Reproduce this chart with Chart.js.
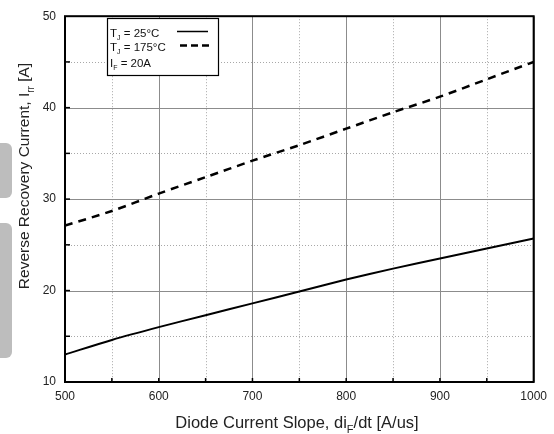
<!DOCTYPE html>
<html>
<head>
<meta charset="utf-8">
<script src="https://cdn.jsdelivr.net/npm/chart.js@4.4.1/dist/chart.umd.min.js"></script>
<style>
  body { margin: 0; background: #fff; }
  #wrap { position: relative; width: 554px; height: 434px; }
  .tab { position: absolute; left: 0; width: 12px; background: #bdbdbd; border-radius: 0 6px 6px 0; }
</style>
</head>
<body>
<div id="wrap">
  <canvas id="chart" width="554" height="434"></canvas>
  <div class="tab" style="top:143px;height:55px"></div>
  <div class="tab" style="top:223px;height:135px"></div>
</div>
<script>
// di/dt values [A/us]
const slopes = [500, 550, 600, 650, 700, 750, 800, 850, 900, 950, 1000];
// Irr at Tj = 25C
const irr25 = [13.0, 14.6, 16.0, 17.3, 18.6, 19.9, 21.2, 22.4, 23.5, 24.6, 25.7];
// Irr at Tj = 175C
const irr175 = [27.1, 28.7, 30.6, 32.4, 34.2, 35.9, 37.7, 39.5, 41.2, 43.1, 45.0];

const xTicks = [500, 600, 700, 800, 900, 1000];
const yTicks = [10, 20, 30, 40, 50];

const FONT = 'Liberation Sans, Arial, sans-serif';
const ctx = document.getElementById('chart').getContext('2d');

function toPoints(ys) {
    return slopes.map((x, i) => ({ x: x, y: ys[i] }));
}

// draws text runs like [['T'], ['J', 'sub'], [' = 25°C']]
function drawRuns(c, runs, x, y, size) {
    for (let r of runs) {
        const sub = r[1] === 'sub';
        c.font = (sub ? Math.round(size * 0.65) : size) + 'px ' + FONT;
        c.fillText(r[0], x, sub ? y + size * 0.3 : y);
        x += c.measureText(r[0]).width;
    }
}
function runsWidth(c, runs, size) {
    let w = 0;
    for (let r of runs) {
        c.font = (r[1] === 'sub' ? Math.round(size * 0.65) : size) + 'px ' + FONT;
        w += c.measureText(r[0]).width;
    }
    return w;
}

const gridPlugin = {
    id: 'gridPlugin',
    beforeDatasetsDraw(chart) {
        const c = chart.ctx;
        const a = chart.chartArea;
        const xs = chart.scales.x, ys = chart.scales.y;
        c.save();
        // minor dotted grid
        c.strokeStyle = '#a8a8a8';
        c.lineWidth = 1;
        c.setLineDash([1, 2]);
        for (let v = 550; v < 1000; v += 100) {
            const px = Math.round(xs.getPixelForValue(v)) + 0.5;
            c.beginPath(); c.moveTo(px, a.top); c.lineTo(px, a.bottom); c.stroke();
        }
        for (let v = 15; v < 50; v += 10) {
            const py = Math.round(ys.getPixelForValue(v)) + 0.5;
            c.beginPath(); c.moveTo(a.left, py); c.lineTo(a.right, py); c.stroke();
        }
        // major solid grid
        c.setLineDash([]);
        c.strokeStyle = '#8c8c8c';
        for (let v of xTicks) {
            const px = Math.round(xs.getPixelForValue(v)) + 0.5;
            c.beginPath(); c.moveTo(px, a.top); c.lineTo(px, a.bottom); c.stroke();
        }
        for (let v of yTicks) {
            const py = Math.round(ys.getPixelForValue(v)) + 0.5;
            c.beginPath(); c.moveTo(a.left, py); c.lineTo(a.right, py); c.stroke();
        }
        c.restore();
    },
    afterDatasetsDraw(chart) {
        const c = chart.ctx;
        const a = chart.chartArea;
        const xs = chart.scales.x, ys = chart.scales.y;
        c.save();
        // inner tick marks
        c.strokeStyle = '#000';
        c.lineWidth = 1.5;
        for (let v = 550; v < 1000; v += 50) {
            const px = xs.getPixelForValue(v);
            c.beginPath(); c.moveTo(px, a.bottom); c.lineTo(px, a.bottom - 4); c.stroke();
        }
        for (let v = 15; v < 50; v += 5) {
            const py = ys.getPixelForValue(v);
            c.beginPath(); c.moveTo(a.left, py); c.lineTo(a.left + 5, py); c.stroke();
        }
        // frame
        c.lineWidth = 2;
        c.strokeRect(a.left, a.top, a.right - a.left, a.bottom - a.top);

        // legend box
        c.fillStyle = '#fff';
        c.fillRect(107, 18, 111, 57);
        c.lineWidth = 1.2;
        c.strokeRect(107.5, 18.5, 111, 57);
        c.fillStyle = '#111';
        c.textBaseline = 'alphabetic';
        c.textAlign = 'left';
        drawRuns(c, [['T'], ['J', 'sub'], [' = 25°C']], 110, 37, 11.5);
        drawRuns(c, [['T'], ['J', 'sub'], [' = 175°C']], 110, 51, 11.5);
        drawRuns(c, [['I'], ['F', 'sub'], [' = 20A']], 110, 67, 11.5);
        c.strokeStyle = '#000';
        c.lineWidth = 1.5;
        c.beginPath(); c.moveTo(177, 31.5); c.lineTo(208, 31.5); c.stroke();
        c.lineWidth = 2.5;
        c.setLineDash([7, 4]);
        c.beginPath(); c.moveTo(180, 45.5); c.lineTo(210, 45.5); c.stroke();
        c.setLineDash([]);

        // axis titles
        c.fillStyle = '#222';
        const xr = [['Diode Current Slope, di'], ['F', 'sub'], ['/dt [A/us]']];
        const xw = runsWidth(c, xr, 16.5);
        drawRuns(c, xr, 297 - xw / 2, 428, 16.5);
        const yr = [['Reverse Recovery Current, I'], ['rr', 'sub'], [' [A]']];
        const yw = runsWidth(c, yr, 15.5);
        c.translate(29, 176);
        c.rotate(-Math.PI / 2);
        drawRuns(c, yr, -yw / 2, 0, 15.5);
        c.restore();
    }
};

new Chart(ctx, {
    type: 'line',
    data: {
        datasets: [
            {
                label: 'TJ = 25°C',
                data: toPoints(irr25),
                borderColor: '#000',
                borderWidth: 2,
                pointRadius: 0,
                tension: 0.3,
                fill: false
            },
            {
                label: 'TJ = 175°C',
                data: toPoints(irr175),
                borderColor: '#000',
                borderWidth: 2.5,
                borderDash: [8, 6],
                pointRadius: 0,
                tension: 0.3,
                fill: false
            }
        ]
    },
    options: {
        responsive: false,
        animation: false,
        layout: { padding: { left: 0, right: 18, top: 9, bottom: 0 } },
        plugins: {
            legend: { display: false },
            tooltip: { enabled: false }
        },
        scales: {
            x: {
                type: 'linear',
                min: 500,
                max: 1000,
                afterFit: s => { s.height = 52; },
                afterBuildTicks: s => { s.ticks = xTicks.map(v => ({ value: v })); },
                ticks: {
                    color: '#222', font: { family: FONT, size: 12 }, padding: 7, maxRotation: 0,
                    callback: v => String(v)
                },
                grid: { display: false, drawTicks: false },
                border: { display: false }
            },
            y: {
                min: 10,
                max: 50,
                afterFit: s => { s.width = 65; },
                afterBuildTicks: s => { s.ticks = yTicks.map(v => ({ value: v })); },
                ticks: { color: '#222', font: { family: FONT, size: 12 }, padding: 9 },
                grid: { display: false, drawTicks: false },
                border: { display: false }
            }
        }
    },
    plugins: [gridPlugin]
});
</script>
</body>
</html>
